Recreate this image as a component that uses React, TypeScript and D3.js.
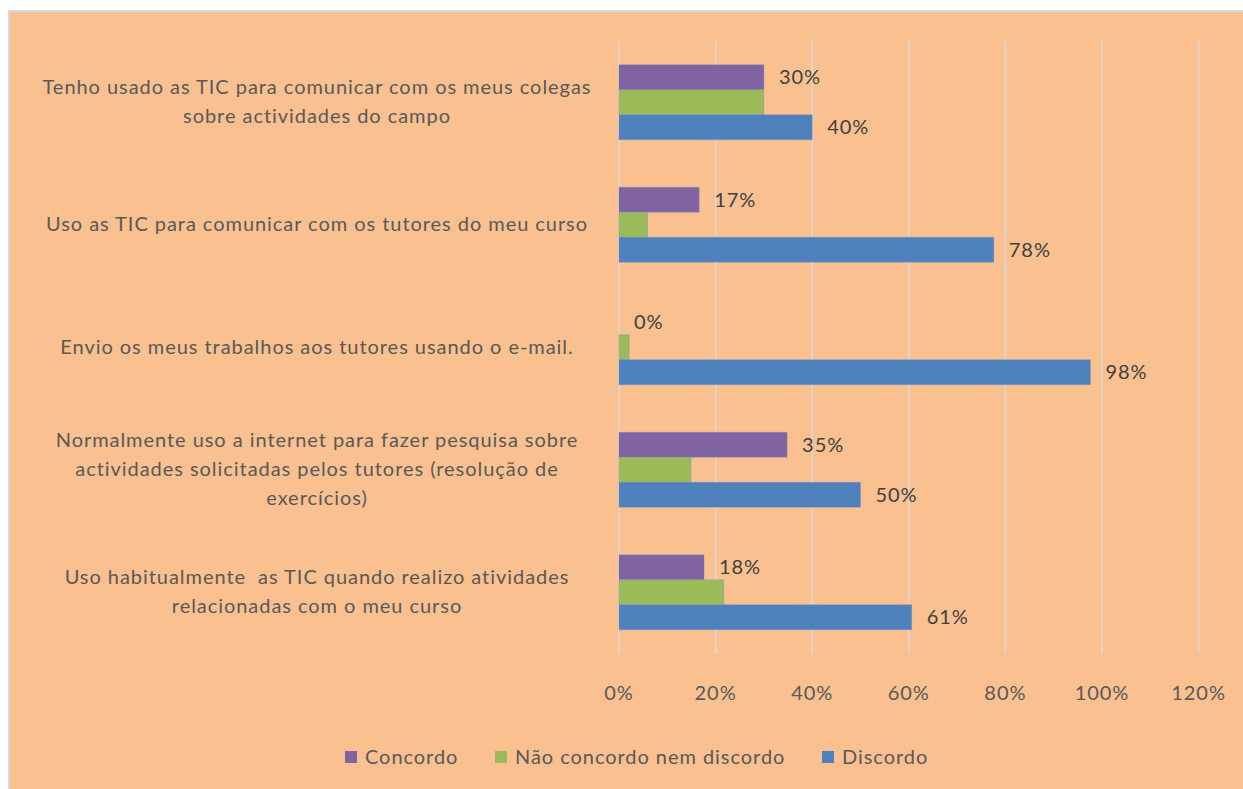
import React from "react";
import * as d3 from "d3";

const categories = [
  "Tenho usado as TIC para comunicar com os meus colegas\nsobre actividades do campo",
  "Uso as TIC para comunicar com os tutores do meu curso",
  "Envio os meus trabalhos aos tutores usando o e-mail.",
  "Normalmente uso a internet para fazer pesquisa sobre\nactividades solicitadas pelos tutores (resolução de\nexercícios)",
  "Uso habitualmente  as TIC quando realizo atividades\nrelacionadas com o meu curso",
];

const seriesNames = ["Concordo", "Não concordo nem discordo", "Discordo"];
const concordo = [0.3, 0.166, 0.0, 0.348, 0.176];
const naoConcordo = [0.3, 0.059, 0.021, 0.149, 0.217];
const discordo = [0.4, 0.776, 0.976, 0.5, 0.606];
const showLabels = [true, false, true];
const xTicks = [0, 0.2, 0.4, 0.6, 0.8, 1.0, 1.2];

const colors = ["#8064A2", "#9BBB59", "#4F81BD"];
const FONT = "Lato, 'Open Sans', sans-serif";
const FS = 20;
const LS = 0.95;

export default function App() {
  const W = 1243;
  const H = 789;
  const x = d3.scaleLinear().domain([0, 1.2]).range([619, 1198.6]);
  const y = d3
    .scaleBand<number>()
    .domain(d3.range(categories.length))
    .range([41, 653.5])
    .paddingInner(0.388)
    .paddingOuter(0.194);
  const inner = d3
    .scaleBand<number>()
    .domain([0, 1, 2])
    .range([0, y.bandwidth()]);
  const series = [concordo, naoConcordo, discordo];
  const pct = d3.format(".0%");

  const legendItems = [
    { x: 345, name: seriesNames[0], c: colors[0] },
    { x: 495, name: seriesNames[1], c: colors[1] },
    { x: 822, name: seriesNames[2], c: colors[2] },
  ];

  const textStyle = { whiteSpace: "pre" as const, letterSpacing: `${LS}px` };

  return (
    <div style={{ position: "absolute", left: 0, top: 0 }}>
      <svg width={W} height={H} style={{ display: "block" }}>
        <rect x={0} y={0} width={W} height={H} fill="#ffffff" />
        <rect x={9} y={11} width={W} height={H} fill="#FAC090" stroke="#D9D9D9" strokeWidth={2} />
        {xTicks.map((t) => (
          <g key={t}>
            <line x1={x(t)} x2={x(t)} y1={41} y2={653.5} stroke="#D9D9D9" strokeWidth={1.5} />
            <text
              x={x(t)}
              y={700}
              textAnchor="middle"
              fontFamily={FONT}
              fontSize={FS}
              fill="#595959"
              style={textStyle}
            >
              {pct(t)}
            </text>
          </g>
        ))}
        {categories.map((cat, i) => {
          const lines = cat.split("\n");
          const cy = (y(i) as number) + y.bandwidth() / 2;
          const lh = 29;
          const y0 = cy - ((lines.length - 1) * lh) / 2 + 6.5;
          return (
            <text
              key={i}
              textAnchor="middle"
              fontFamily={FONT}
              fontSize={FS}
              fill="#595959"
              style={textStyle}
            >
              {lines.map((l, j) => (
                <tspan key={j} x={317} y={y0 + j * lh}>
                  {l}
                </tspan>
              ))}
            </text>
          );
        })}
        {series.map((vals, s) =>
          vals.map((v, i) => {
            const by = (y(i) as number) + (inner(s) as number);
            const bh = inner.bandwidth();
            return (
              <g key={`${s}-${i}`}>
                {v > 0 && (
                  <rect
                    x={x(0)}
                    y={by}
                    width={x(v) - x(0)}
                    height={bh}
                    fill={colors[s]}
                    stroke="#6F8FC8"
                    strokeOpacity={0.35}
                    strokeWidth={1}
                  />
                )}
                {showLabels[s] && (
                  <text
                    x={x(v) + 15}
                    y={by + bh / 2 + 7}
                    fontFamily={FONT}
                    fontSize={FS}
                    fill="#404040"
                    style={textStyle}
                  >
                    {pct(v)}
                  </text>
                )}
              </g>
            );
          })
        )}
        {legendItems.map((it, k) => (
          <g key={k}>
            <rect x={it.x} y={751} width={12} height={12} fill={it.c} />
            <text x={it.x + 20} y={764} fontFamily={FONT} fontSize={FS} fill="#595959" style={textStyle}>
              {it.name}
            </text>
          </g>
        ))}
      </svg>
    </div>
  );
}
